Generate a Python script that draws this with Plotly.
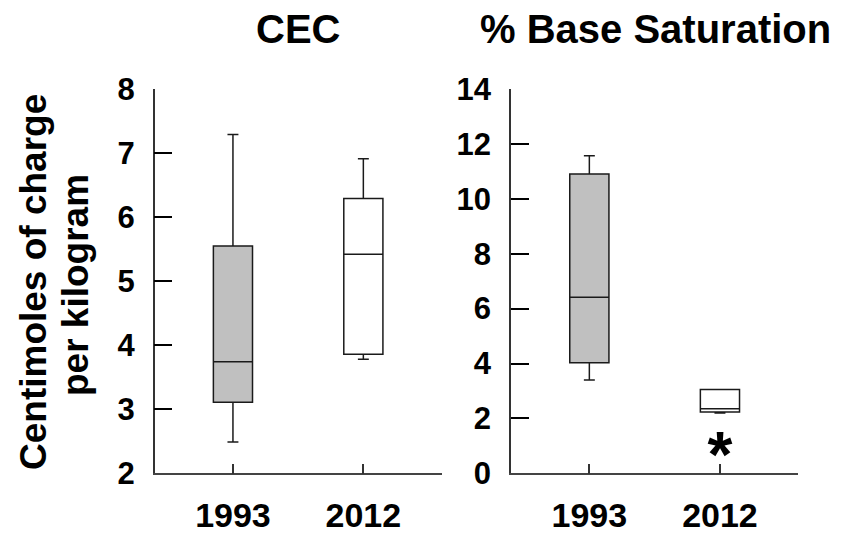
import plotly.graph_objects as go

# Soil exchange properties, 1993 vs 2012 (box summaries)
years = ["1993", "2012"]

cec_lower = [2.49, 3.78]
cec_q1 = [3.11, 3.86]
cec_median = [3.74, 5.42]
cec_q3 = [5.55, 6.29]
cec_upper = [7.29, 6.91]

bs_lower = [3.40, 2.20]
bs_q1 = [4.03, 2.23]
bs_median = [6.41, 2.35]
bs_q3 = [10.90, 3.05]
bs_upper = [11.57, 3.05]

box_fills = ["#c0c0c0", "#ffffff"]

cec_ticks = [2, 3, 4, 5, 6, 7, 8]
bs_ticks = [0, 2, 4, 6, 8, 10, 12, 14]

FONT = "Liberation Sans, Arial, sans-serif"
W, H = 844, 536

fig = go.Figure()

def add_boxes(xref, yref, lower, q1, med, q3, upper):
    for i, yr in enumerate(years):
        fig.add_trace(go.Box(
            x=[yr], lowerfence=[lower[i]], q1=[q1[i]], median=[med[i]],
            q3=[q3[i]], upperfence=[upper[i]],
            xaxis=xref, yaxis=yref,
            width=0.3, whiskerwidth=0.28,
            fillcolor=box_fills[i],
            line=dict(color="#1a1a1a", width=1.5),
            boxpoints=False, showlegend=False, hoverinfo="skip",
        ))

add_boxes("x", "y", cec_lower, cec_q1, cec_median, cec_q3, cec_upper)
add_boxes("x2", "y2", bs_lower, bs_q1, bs_median, bs_q3, bs_upper)

# significance marker under the 2012 base-saturation box
fig.add_trace(go.Scatter(
    x=["2012"], y=[0.45], mode="text", text=["*"],
    textfont=dict(family=FONT, size=64, color="black", weight="bold"),
    xaxis="x2", yaxis="y2", showlegend=False, hoverinfo="skip",
    cliponaxis=False,
))

def px_x(a, b):
    return [a / W, b / W]

def px_y(top, bottom):
    return [1 - bottom / H, 1 - top / H]

xaxis_common = dict(
    type="category", range=[-0.6, 1.6], automargin=False,
    showline=True, linecolor="#444", linewidth=1.5,
    ticks="inside", ticklen=10, tickwidth=1.5, tickcolor="#333",
    tickfont=dict(family=FONT, size=34, color="black", weight="bold"),
    ticklabelstandoff=11, showgrid=False, zeroline=False, fixedrange=True,
)
yaxis_common = dict(
    automargin=False,
    showline=True, linecolor="#333", linewidth=1.5,
    ticks="inside", ticklen=18, tickwidth=1.8, tickcolor="black",
    tickfont=dict(family=FONT, size=31, color="black", weight="bold"),
    ticklabelstandoff=12, showgrid=False, zeroline=False, fixedrange=True,
)

fig.update_layout(
    template="none",
    width=W, height=H,
    margin=dict(l=0, r=0, t=0, b=0, autoexpand=False),
    paper_bgcolor="white", plot_bgcolor="white",
    xaxis=dict(domain=px_x(154.7, 441.6), anchor="y", **xaxis_common),
    yaxis=dict(domain=px_y(89, 473.3), anchor="x", range=[2, 8],
               tickvals=cec_ticks, **yaxis_common),
    xaxis2=dict(domain=px_x(511, 798.3), anchor="y2", **xaxis_common),
    yaxis2=dict(domain=px_y(89, 473.3), anchor="x2", range=[0, 14],
                tickvals=bs_ticks, **yaxis_common),
    annotations=[
        dict(text="CEC", x=298 / W, y=1 - 29 / H, xref="paper", yref="paper",
             showarrow=False, xanchor="center", yanchor="middle",
             font=dict(family=FONT, size=40, color="black", weight="bold")),
        dict(text="% Base Saturation", x=655 / W, y=1 - 29 / H, xref="paper", yref="paper",
             showarrow=False, xanchor="center", yanchor="middle",
             font=dict(family=FONT, size=40, color="black", weight="bold")),
        dict(text="Centimoles of charge", x=33 / W, y=1 - 282 / H, xref="paper", yref="paper",
             showarrow=False, textangle=-90, xanchor="center", yanchor="middle",
             font=dict(family=FONT, size=37, color="black", weight="bold")),
        dict(text="per kilogram", x=75 / W, y=1 - 285 / H, xref="paper", yref="paper",
             showarrow=False, textangle=-90, xanchor="center", yanchor="middle",
             font=dict(family=FONT, size=37, color="black", weight="bold")),
    ],
)

fig.write_html("out.html")
